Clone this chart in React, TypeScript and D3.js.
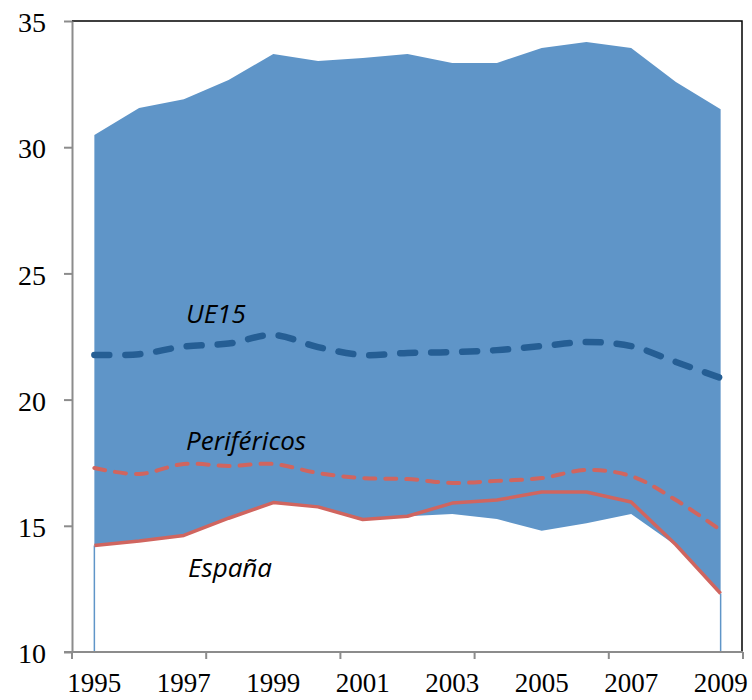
import React, { useRef, useEffect } from "react";
import * as d3 from "d3";

const years = [1995, 1996, 1997, 1998, 1999, 2000, 2001, 2002, 2003, 2004, 2005, 2006, 2007, 2008, 2009];

// top and bottom of the blue band (range of countries)
const bandMax = [30.48, 31.55, 31.9, 32.66, 33.69, 33.42, 33.53, 33.69, 33.34, 33.34, 33.93, 34.17, 33.93, 32.58, 31.5];
const bandMin = [14.22, 14.4, 14.62, 15.3, 15.92, 15.75, 15.25, 15.38, 15.47, 15.27, 14.8, 15.1, 15.47, 14.22, 12.32];

const ue15 = [21.77, 21.8, 22.1, 22.22, 22.56, 22.08, 21.77, 21.85, 21.88, 21.96, 22.12, 22.28, 22.12, 21.49, 20.86];
const perifericos = [17.29, 17.05, 17.45, 17.37, 17.45, 17.09, 16.89, 16.85, 16.7, 16.78, 16.89, 17.21, 16.97, 16.02, 14.83];
const espana = [14.22, 14.4, 14.62, 15.3, 15.92, 15.75, 15.25, 15.38, 15.9, 16.02, 16.34, 16.34, 15.94, 14.25, 12.32];

const yTicks = [10, 15, 20, 25, 30, 35];
const xLabels = [1995, 1997, 1999, 2001, 2003, 2005, 2007, 2009];

function App() {
  const ref = useRef<HTMLDivElement>(null);

  const w = 752,
    h = 700;
  const left = 72,
    right = 743,
    top = 21,
    bottom = 652;

  useEffect(() => {
    d3.select(ref.current).selectAll("*").remove();
    const svg = d3
      .select(ref.current)
      .append("svg")
      .attr("width", w)
      .attr("height", h)
      .style("position", "absolute")
      .style("left", 0)
      .style("top", 0);

    const x = d3.scaleBand<number>().domain(years).range([left, right]);
    const px = (i: number) => (x(years[i]) as number) + x.bandwidth() / 2;
    const y = d3.scaleLinear().domain([10, 35]).range([bottom, top]);

    // blue band
    const area = d3
      .area<number>()
      .x((d, i) => px(i))
      .y0((d, i) => y(bandMin[i]))
      .y1((d) => y(d));
    svg.append("path").attr("d", area(bandMax)).attr("fill", "#5f95c8");

    // thin edges of the stacked area going down to the axis
    [0, years.length - 1].forEach((i) => {
      svg
        .append("line")
        .attr("x1", px(i))
        .attr("x2", px(i))
        .attr("y1", y(bandMin[i]))
        .attr("y2", bottom)
        .attr("stroke", "#5f95c8")
        .attr("stroke-width", 1.5);
    });

    // frame
    svg
      .append("path")
      .attr("d", `M${left},${top}H${right - 1}V${bottom}`)
      .attr("fill", "none")
      .attr("stroke", "#000")
      .attr("stroke-width", 1.5);

    // lines
    const smooth = d3
      .line<number>()
      .x((d, i) => px(i))
      .y((d) => y(d))
      .curve(d3.curveCatmullRom.alpha(0.5));
    const straight = d3
      .line<number>()
      .x((d, i) => px(i))
      .y((d) => y(d));

    svg
      .append("path")
      .attr("d", straight(espana))
      .attr("fill", "none")
      .attr("stroke", "#d0655f")
      .attr("stroke-width", 3.5)
      .attr("stroke-linejoin", "round");

    svg
      .append("path")
      .attr("d", smooth(perifericos))
      .attr("fill", "none")
      .attr("stroke", "#d0655f")
      .attr("stroke-width", 4)
      .attr("stroke-linecap", "round")
      .attr("stroke-dasharray", "11,10");

    svg
      .append("path")
      .attr("d", smooth(ue15))
      .attr("fill", "none")
      .attr("stroke", "#255e94")
      .attr("stroke-width", 6.5)
      .attr("stroke-linecap", "round")
      .attr("stroke-dasharray", "15,16");

    // y axis
    const yAxis = d3.axisLeft(y).tickValues(yTicks).tickSize(8).tickSizeOuter(0);
    svg
      .append("g")
      .attr("transform", `translate(${left},0)`)
      .call(yAxis)
      .call((g) => g.selectAll("line,path").attr("stroke", "#8c8c8c").attr("stroke-width", 2))
      .call((g) =>
        g
          .selectAll("text")
          .attr("x", -26)
          .attr("dy", "0.38em")
          .attr("fill", "#000")
          .style("font-family", "'Liberation Serif', serif")
          .style("font-size", "28px")
      );

    // x axis: ticks every 3 categories, labels every 2
    const xb = d3.scaleLinear().domain([0, years.length]).range([left, right]);
    svg
      .append("path")
      .attr("d", `M${left - 8},${bottom}H${right}`)
      .attr("stroke", "#8c8c8c")
      .attr("stroke-width", 2);
    svg
      .append("g")
      .selectAll("line")
      .data(d3.range(0, years.length + 1, 3))
      .enter()
      .append("line")
      .attr("x1", (d) => xb(d))
      .attr("x2", (d) => xb(d))
      .attr("y1", bottom)
      .attr("y2", bottom + 7)
      .attr("stroke", "#8c8c8c")
      .attr("stroke-width", 2);
    svg
      .append("g")
      .selectAll("text")
      .data(xLabels)
      .enter()
      .append("text")
      .attr("x", (d) => (x(d) as number) + x.bandwidth() / 2)
      .attr("y", 692)
      .attr("text-anchor", "middle")
      .style("font-family", "'Liberation Serif', serif")
      .style("font-size", "27px")
      .text((d) => d);

    // series labels
    const labels = [
      { text: "UE15", x: 186, y: 323 },
      { text: "Periféricos", x: 186, y: 450 },
      { text: "España", x: 188, y: 577 }
    ];
    svg
      .append("g")
      .selectAll("text")
      .data(labels)
      .enter()
      .append("text")
      .attr("x", (d) => d.x)
      .attr("y", (d) => d.y)
      .style("font-family", "'Open Sans', sans-serif")
      .style("font-style", "italic")
      .style("font-size", "26px")
      .text((d) => d.text);
  }, []);

  return <div className="App" ref={ref}></div>;
}

export default App;
